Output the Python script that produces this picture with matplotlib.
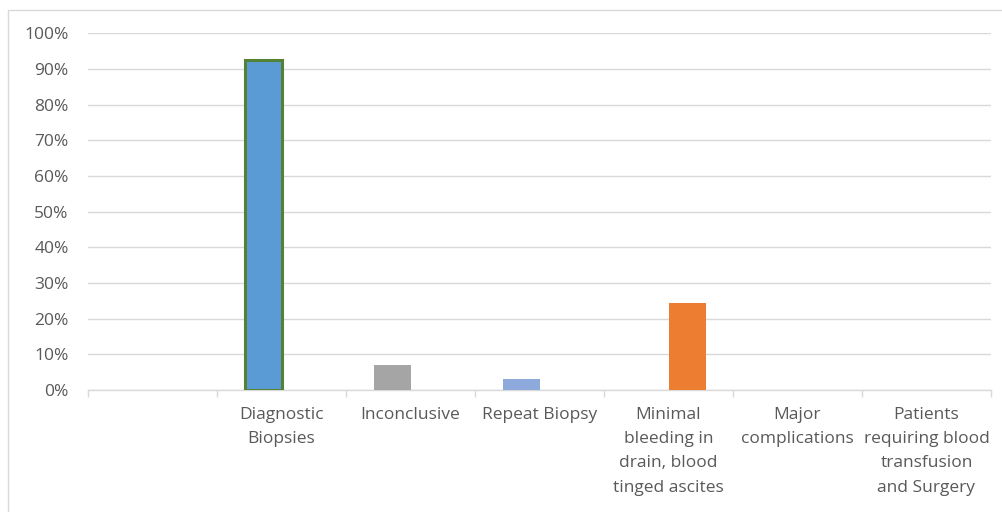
import matplotlib
matplotlib.use("Agg")
import matplotlib.pyplot as plt
from matplotlib.patches import Rectangle
from matplotlib.ticker import PercentFormatter

plt.rcParams["font.family"] = ["Open Sans", "DejaVu Sans"]

categories = ["", "Diagnostic\nBiopsies", "Inconclusive", "Repeat Biopsy",
              "Minimal\nbleeding in\ndrain, blood\ntinged ascites",
              "Major\ncomplications",
              "Patients\nrequiring blood\ntransfusion\nand Surgery"]
# two series, each category holds a value in only one of them
left_vals = [0, 92.5, 7.0, 3.0, 0, 0, 0]
right_vals = [0, 0, 0, 0, 24.3, 0, 0]
left_colors = ["#5B9BD5", "#5B9BD5", "#A5A5A5", "#8EA9DB", "#5B9BD5", "#5B9BD5", "#5B9BD5"]
right_colors = ["#ED7D31"] * 7

fig = plt.figure(figsize=(10.02, 5.12), dpi=100)
ax = fig.add_axes([0.0878, 0.2383, 0.9012, 0.6963])

x = list(range(len(categories)))
w = 0.286
ax.bar([i - 0.14 for i in x], [v / 100 for v in left_vals], w, color=left_colors, zorder=3)
ax.bar([i + 0.15 for i in x], [v / 100 for v in right_vals], w, color=right_colors, zorder=3)
# green outline on the diagnostic bar
ax.bar(1 - 0.14, left_vals[1] / 100, w, facecolor="none", edgecolor="#548235",
       linewidth=2.2, zorder=4)

ax.set_xlim(-0.5, len(categories) - 0.5)
ax.set_ylim(0, 1)
ax.set_yticks([i / 10 for i in range(11)])
ax.yaxis.set_major_formatter(PercentFormatter(1.0, decimals=0))
ax.grid(axis="y", color="#D9D9D9", linewidth=1, zorder=0)

ax.set_xticks(x)
ax.set_xticklabels(categories, linespacing=1.7)
ax.set_xticks([i + 0.5 for i in range(-1, len(categories))], minor=True)
ax.tick_params(axis="x", which="major", length=0, pad=12, labelsize=12.5, labelcolor="#595959")
ax.tick_params(axis="x", which="minor", length=5, color="#D9D9D9", width=1)
ax.tick_params(axis="y", length=0, pad=14, labelsize=12.5, labelcolor="#595959")

for s in ["top", "right", "left"]:
    ax.spines[s].set_visible(False)
ax.spines["bottom"].set_color("#D9D9D9")
ax.spines["bottom"].set_linewidth(1)

# outer chart border
fig.patches.append(Rectangle((8 / 1002, -0.01), 1.0, 1 - 10 / 512 + 0.01,
                             transform=fig.transFigure, fill=False,
                             edgecolor="#D9D9D9", linewidth=1))

fig.savefig("out.png", dpi=100)
